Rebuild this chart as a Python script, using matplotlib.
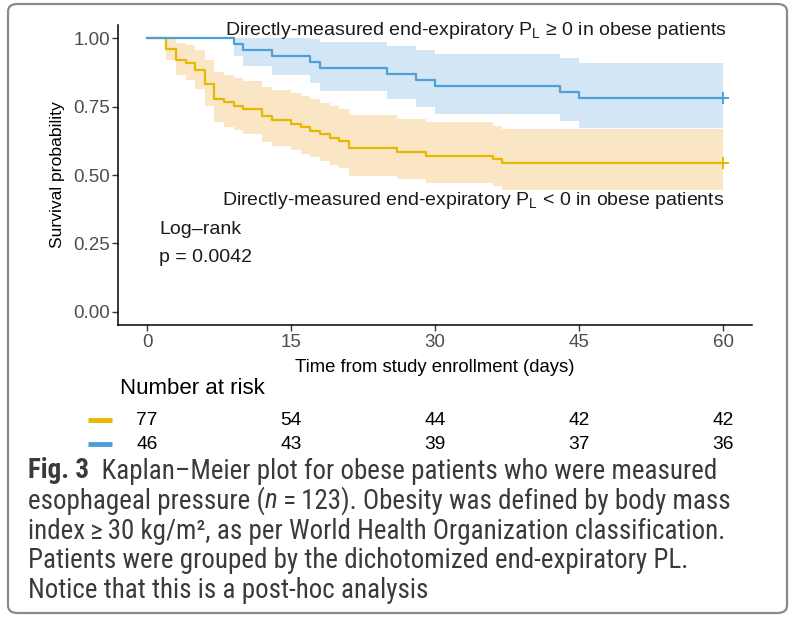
import matplotlib
matplotlib.use('Agg')
import matplotlib.pyplot as plt
from matplotlib import font_manager
from matplotlib.patches import FancyBboxPatch

# ---------------- data ----------------
orange_times = [0, 2, 3, 4, 5, 6, 7, 8, 9, 10, 12, 13, 15, 16, 17, 18, 19, 20, 21, 26, 29, 36, 37]
orange_surv = [1.000, 0.961, 0.922, 0.909, 0.883, 0.831, 0.779, 0.766, 0.753, 0.740, 0.714, 0.701,
               0.688, 0.675, 0.662, 0.649, 0.636, 0.623, 0.597, 0.584, 0.571, 0.558, 0.545]
orange_lower = [1.000, 0.919, 0.864, 0.847, 0.814, 0.752, 0.692, 0.677, 0.663, 0.649, 0.620, 0.606,
                0.592, 0.578, 0.565, 0.551, 0.537, 0.524, 0.497, 0.484, 0.471, 0.458, 0.445]
orange_upper = [1.000, 1.000, 0.984, 0.976, 0.958, 0.919, 0.878, 0.867, 0.856, 0.845, 0.823, 0.811,
                0.800, 0.788, 0.777, 0.765, 0.753, 0.742, 0.718, 0.706, 0.693, 0.681, 0.669]

blue_times = [0, 9, 10, 13, 17, 18, 25, 28, 30, 43, 45]
blue_surv = [1.000, 0.978, 0.957, 0.935, 0.913, 0.891, 0.870, 0.848, 0.826, 0.804, 0.783]
blue_lower = [1.000, 0.937, 0.899, 0.866, 0.835, 0.806, 0.777, 0.750, 0.723, 0.697, 0.672]
blue_upper = [1.000, 1.000, 1.000, 1.000, 0.998, 0.986, 0.973, 0.958, 0.943, 0.928, 0.911]

end_time = 60
risk_times = [0, 15, 30, 45, 60]
risk_orange = [77, 54, 44, 42, 42]
risk_blue = [46, 43, 39, 37, 36]
x_ticks = [0, 15, 30, 45, 60]
y_ticks = [0.00, 0.25, 0.50, 0.75, 1.00]
y_ticklabels = ["0.00", "0.25", "0.50", "0.75", "1.00"]

label_ge = "Directly-measured end-expiratory P$_{\\mathrm{L}}$ \u2265 0 in obese patients"
label_lt = "Directly-measured end-expiratory P$_{\\mathrm{L}}$ < 0 in obese patients"

caption_lines = [
    [("Fig. 3", {"weight": "bold"}), ("  Kaplan\u2013Meier plot for obese patients who were measured", {})],
    [("esophageal pressure (", {}), ("n", {"style": "italic"}), ("\u2009=\u2009123). Obesity was defined by body mass", {})],
    [("index\u2009\u2265\u200930 kg/m\u00b2, as per World Health Organization classification.", {})],
    [("Patients were grouped by the dichotomized end-expiratory PL.", {})],
    [("Notice that this is a post-hoc analysis", {})],
]

# ---------------- style ----------------
ORANGE = "#E7B800"
ORANGE_FILL = "#F0A830"
BLUE = "#4E9FD8"
W, H = 795, 625
plt.rcParams['font.family'] = ['Liberation Sans', 'DejaVu Sans']
plt.rcParams['mathtext.fontset'] = 'custom'
plt.rcParams['mathtext.rm'] = 'Liberation Sans'
plt.rcParams['mathtext.it'] = 'Liberation Sans:italic'

avail = {f.name for f in font_manager.fontManager.ttflist}
cap_font = 'Lato'
for cand in ['Liberation Sans Narrow', 'Roboto Condensed', 'Open Sans Condensed', 'Lato']:
    if cand in avail:
        cap_font = cand
        break

fig = plt.figure(figsize=(W / 100, H / 100), dpi=100)
fig.patch.set_facecolor('white')

def fx(px):
    return px / W

def fy(py):
    return 1 - py / H

# main axes
ax_l, ax_r, ax_t, ax_b = 118.4, 752.0, 24.6, 325.4
ax = fig.add_axes([fx(ax_l), fy(ax_b), (ax_r - ax_l) / W, (ax_b - ax_t) / H])
ax.set_xlim(-3, 63)
ax.set_ylim(-0.05, 1.05)

def ext(vals, last):
    return list(vals) + [last]

ot = ext(orange_times, end_time)
bt = ext(blue_times, end_time)
ax.fill_between(ot, ext(orange_lower, orange_lower[-1]), ext(orange_upper, orange_upper[-1]),
                step='post', color=ORANGE_FILL, alpha=0.28, linewidth=0)
ax.fill_between(bt, ext(blue_lower, blue_lower[-1]), ext(blue_upper, blue_upper[-1]),
                step='post', color=BLUE, alpha=0.25, linewidth=0)
ax.step(ot, ext(orange_surv, orange_surv[-1]), where='post', color=ORANGE, lw=1.6)
ax.step(bt, ext(blue_surv, blue_surv[-1]), where='post', color=BLUE, lw=1.6)
ax.plot([end_time], [orange_surv[-1]], marker='+', color=ORANGE, ms=9, mew=1.4)
ax.plot([end_time], [blue_surv[-1]], marker='+', color=BLUE, ms=9, mew=1.4)

for s in ['top', 'right']:
    ax.spines[s].set_visible(False)
for s in ['left', 'bottom']:
    ax.spines[s].set_linewidth(1.1)
    ax.spines[s].set_color('black')
ax.set_xticks(x_ticks)
ax.set_yticks(y_ticks)
ax.set_yticklabels(y_ticklabels)
ax.tick_params(axis='both', length=4, width=1, color='#333333', labelcolor='#4D4D4D',
               labelsize=13.5, pad=2)
ax.set_xlabel("Time from study enrollment (days)", fontsize=13.3, color='black', labelpad=6)
ax.set_ylabel("Survival probability", fontsize=12.6, color='black', labelpad=6)

ax.text(60.35, 1.03, label_ge, ha='right', va='center', fontsize=14.0, color='#1a1a1a')
ax.text(60.15, 0.405, label_lt, ha='right', va='center', fontsize=14.0, color='#1a1a1a')
ax.text(1.25, 0.299, "Log\u2013rank", ha='left', va='center', fontsize=14.0, color='#1a1a1a')
ax.text(1.25, 0.200, "p = 0.0042", ha='left', va='center', fontsize=14.0, color='#1a1a1a')

# risk table
ax2 = fig.add_axes([fx(ax_l), fy(460), (ax_r - ax_l) / W, 90 / H])
ax2.set_xlim(-3, 63)
ax2.set_ylim(460, 370)
ax2.axis('off')
fig.text(fx(120), fy(388), "Number at risk", ha='left', va='center', fontsize=16, color='black')
for t, n in zip(risk_times, risk_orange):
    ax2.text(t, 421, str(n), ha='center', va='center', fontsize=13.8, color='black')
for t, n in zip(risk_times, risk_blue):
    ax2.text(t, 445, str(n), ha='center', va='center', fontsize=13.8, color='black')
fig.add_artist(plt.Line2D([fx(88), fx(112)], [fy(420), fy(420)], color=ORANGE, lw=3.5,
                          solid_capstyle='butt'))
fig.add_artist(plt.Line2D([fx(88), fx(112)], [fy(444), fy(444)], color=BLUE, lw=3.5,
                          solid_capstyle='butt'))

# frame
frame = FancyBboxPatch((fx(8), fy(613)), fx(787) - fx(8), fy(4) - fy(613),
                       boxstyle="round,pad=0,rounding_size=0.012", transform=fig.transFigure,
                       fill=False, edgecolor='#8a8a8a', linewidth=1.6)
fig.add_artist(frame)

# caption with segment layout
renderer = fig.canvas.get_renderer()
fam = [cap_font, 'DejaVu Sans']

def seg_width(segs, size):
    total = 0
    for txt, kw in segs:
        t = fig.text(0, 0, txt, fontsize=size, family=fam, **kw)
        total += t.get_window_extent(renderer=renderer).width
        t.remove()
    return total

base = 16
w0 = seg_width(caption_lines[0], base)
cap_size = base * 690.0 / w0
cap_size = min(cap_size, 21)
line_y = [471, 501, 531, 561, 591]
for segs, yy in zip(caption_lines, line_y):
    x = 28
    for txt, kw in segs:
        t = fig.text(fx(x), fy(yy), txt, fontsize=cap_size, family=fam, ha='left', va='center',
                     color='#3a3a3a', **kw)
        x += t.get_window_extent(renderer=renderer).width

fig.savefig("out.png", dpi=100, facecolor='white')
